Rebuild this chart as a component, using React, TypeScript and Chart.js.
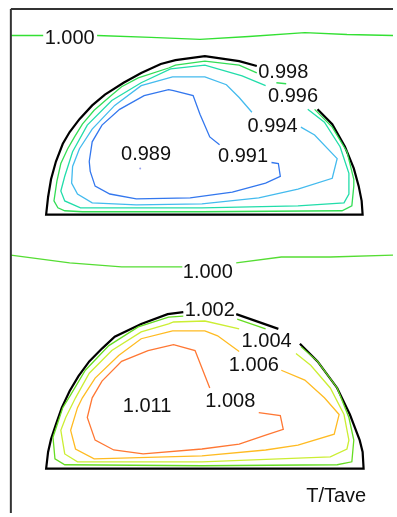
import React, { useEffect, useRef } from "react";
import { Chart, registerables } from "chart.js";

Chart.register(...registerables);

type P = [number, number];

// ---- frame ----
const frameTop: P[] = [[7, 5], [397, 5]];
const frameLeft: P[] = [[7, 5], [7, 517]];

// ---- upper panel (T/Tave < 1) ----
const upperIso1000A: P[] = [[7, 32], [40, 32]];
const upperIso1000B: P[] = [[95, 32], [150, 34], [200, 36], [250, 33], [307, 29], [350, 31], [397, 32]];
const upperOutline: P[] = [
  [258, 63], [240, 58], [205, 53], [175, 57], [160, 61], [140, 70], [122, 80], [103, 92], [90, 103], [77, 117],
  [67, 130], [60, 142], [53, 160], [48, 178], [45, 196], [43, 214], [366, 214], [365, 200], [362, 185],
  [357, 167], [348, 145], [335, 122], [320, 107],
];
const upperIso0998A: P[] = [
  [258, 70], [240, 62], [205, 58], [175, 62], [168, 65], [137, 75], [120, 84], [107, 95], [92, 108], [80, 122],
  [72, 135], [65, 147], [58, 162], [54, 180], [51, 200], [55, 207], [62, 210], [80, 211], [202, 211],
  [345, 210], [355, 205], [357, 185], [357, 178], [350, 150], [335, 125], [317, 107],
];
const upperIso0998B: P[] = [[278, 80], [288, 81]];
const upperIso0996: P[] = [
  [267, 83], [243, 73], [205, 62], [170, 66], [140, 80], [110, 98], [85, 123], [70, 150], [62, 175], [58, 190],
  [62, 200], [78, 207], [202, 207], [300, 205], [347, 202], [352, 193], [352, 172], [343, 145], [327, 120], [310, 107],
];
const upperIso0994: P[] = [
  [253, 110], [240, 95], [227, 82], [205, 74], [172, 74], [140, 83], [113, 103], [90, 127], [77, 147], [70, 165],
  [69, 182], [75, 193], [90, 202], [135, 204], [202, 203], [260, 197], [300, 188], [335, 177], [340, 157],
  [317, 133], [303, 125],
];
const upperIso0991: P[] = [
  [220, 143], [210, 135], [200, 112], [193, 93], [173, 88], [168, 87], [143, 93], [118, 107], [100, 123],
  [90, 140], [87, 160], [88, 170], [93, 185], [108, 193], [135, 198], [190, 197], [233, 191], [267, 182],
  [282, 175], [280, 162], [273, 161],
];
const upperMin: P[] = [[139, 167]];

// ---- lower panel (T/Tave > 1) ----
const lowerIso1000A: P[] = [[7, 255], [67, 263], [120, 267], [182, 267]];
const lowerIso1000B: P[] = [[237, 263], [283, 257], [333, 257], [397, 255]];
const lowerOutlineA: P[] = [
  [183, 313], [167, 315], [140, 325], [113, 338], [100, 350], [87, 363], [76, 378], [67, 393], [59, 410],
  [53, 427], [48, 442], [45, 455], [43, 472], [367, 472], [366, 455], [363, 443], [353, 417], [340, 390],
  [320, 363], [302, 345],
];
const lowerOutlineB: P[] = [[237, 315], [280, 330]];
const lowerIso1002A: P[] = [
  [183, 317], [168, 318], [137, 328], [107, 347], [83, 372], [68, 397], [60, 410], [55, 425], [50, 440],
  [52, 462], [62, 468], [202, 469], [340, 468], [355, 465], [357, 443], [352, 420], [340, 390], [320, 363],
  [303, 348],
];
const lowerIso1002B: P[] = [[238, 320], [267, 330]];
const lowerIso1004: P[] = [
  [240, 330], [205, 322], [173, 323], [168, 325], [140, 333], [110, 352], [87, 375], [73, 400], [63, 420],
  [58, 433], [62, 457], [75, 465], [202, 465], [333, 460], [350, 452], [352, 443], [347, 417], [333, 390],
  [313, 367], [298, 355],
];
const lowerIso1006: P[] = [
  [240, 353], [218, 337], [205, 332], [172, 332], [168, 333], [140, 340], [117, 357], [93, 380], [80, 400],
  [75, 410], [68, 433], [73, 452], [92, 462], [202, 459], [267, 453], [300, 448], [337, 437], [342, 417],
  [327, 400], [307, 382], [283, 372],
];
const lowerIso1008: P[] = [
  [210, 390], [195, 352], [173, 346], [147, 352], [120, 363], [100, 383], [90, 400], [85, 420], [93, 443],
  [112, 453], [142, 457], [202, 452], [240, 447], [267, 438], [285, 432], [282, 418], [260, 415],
];

// ---- labels ----
const labelTexts = [
  "1.000", "0.998", "0.996", "0.994", "0.991", "0.989",
  "1.000", "1.002", "1.004", "1.006", "1.008", "1.011", "T/Tave",
];
const labelX = [67, 285, 295, 274, 244, 145, 208, 210, 268, 255, 231, 146, 339];
const labelY = [35, 70, 94, 124, 155, 153, 273, 311, 343, 367, 404, 409, 500];

const toPts = (a: P[]) => a.map(([x, y]) => ({ x, y }));

const line = (data: P[], color: string, width = 1.3) => ({
  data: toPts(data),
  borderColor: color,
  backgroundColor: color,
  borderWidth: width,
  showLine: true,
  pointRadius: 0,
  fill: false,
  tension: 0,
});

const labelPlugin = {
  id: "contourLabels",
  afterDatasetsDraw(chart: any) {
    const { ctx, scales } = chart;
    ctx.save();
    ctx.font = "20px 'Liberation Sans', Arial, sans-serif";
    ctx.fillStyle = "#111111";
    ctx.textAlign = "center";
    ctx.textBaseline = "middle";
    labelTexts.forEach((t, i) => {
      ctx.fillText(t, scales.x.getPixelForValue(labelX[i]), scales.y.getPixelForValue(labelY[i]));
    });
    ctx.restore();
  },
};

export default function App() {
  const ref = useRef<HTMLCanvasElement>(null);
  useEffect(() => {
    if (!ref.current) return;
    const datasets: any[] = [
      line(frameTop, "#333333", 2),
      line(frameLeft, "#333333", 2),
      line(upperIso1000A, "#33e033"),
      line(upperIso1000B, "#33e033"),
      line(upperIso0998A, "#33dd55"),
      line(upperIso0998B, "#33dd55"),
      line(upperIso0996, "#22ddaa"),
      line(upperIso0994, "#44bbee"),
      line(upperIso0991, "#3377ee"),
      line(upperOutline, "#000000", 2.2),
      {
        data: toPts(upperMin),
        borderColor: "#9aa2ee",
        backgroundColor: "#9aa2ee",
        pointRadius: 1,
        borderWidth: 0,
        showLine: false,
      },
      line(lowerIso1000A, "#55dd33"),
      line(lowerIso1000B, "#55dd33"),
      line(lowerIso1002A, "#66dd22"),
      line(lowerIso1002B, "#66dd22"),
      line(lowerIso1004, "#ccee33"),
      line(lowerIso1006, "#ffbb22"),
      line(lowerIso1008, "#ff7733"),
      line(lowerOutlineA, "#000000", 2.2),
      line(lowerOutlineB, "#000000", 2.2),
    ];
    const chart = new Chart(ref.current, {
      type: "scatter",
      data: { datasets },
      options: {
        animation: false,
        responsive: false,
        devicePixelRatio: 1,
        events: [],
        layout: { padding: 0 },
        scales: {
          x: { type: "linear", min: 0, max: 397, display: false },
          y: { type: "linear", min: 0, max: 517, reverse: true, display: false },
        },
        plugins: { legend: { display: false }, tooltip: { enabled: false } },
      },
      plugins: [labelPlugin],
    } as any);
    return () => chart.destroy();
  }, []);
  return (
    <div style={{ position: "absolute", left: 0, top: 0, width: 397, height: 517, background: "#ffffff" }}>
      <canvas ref={ref} width={397} height={517} style={{ display: "block" }} />
    </div>
  );
}
